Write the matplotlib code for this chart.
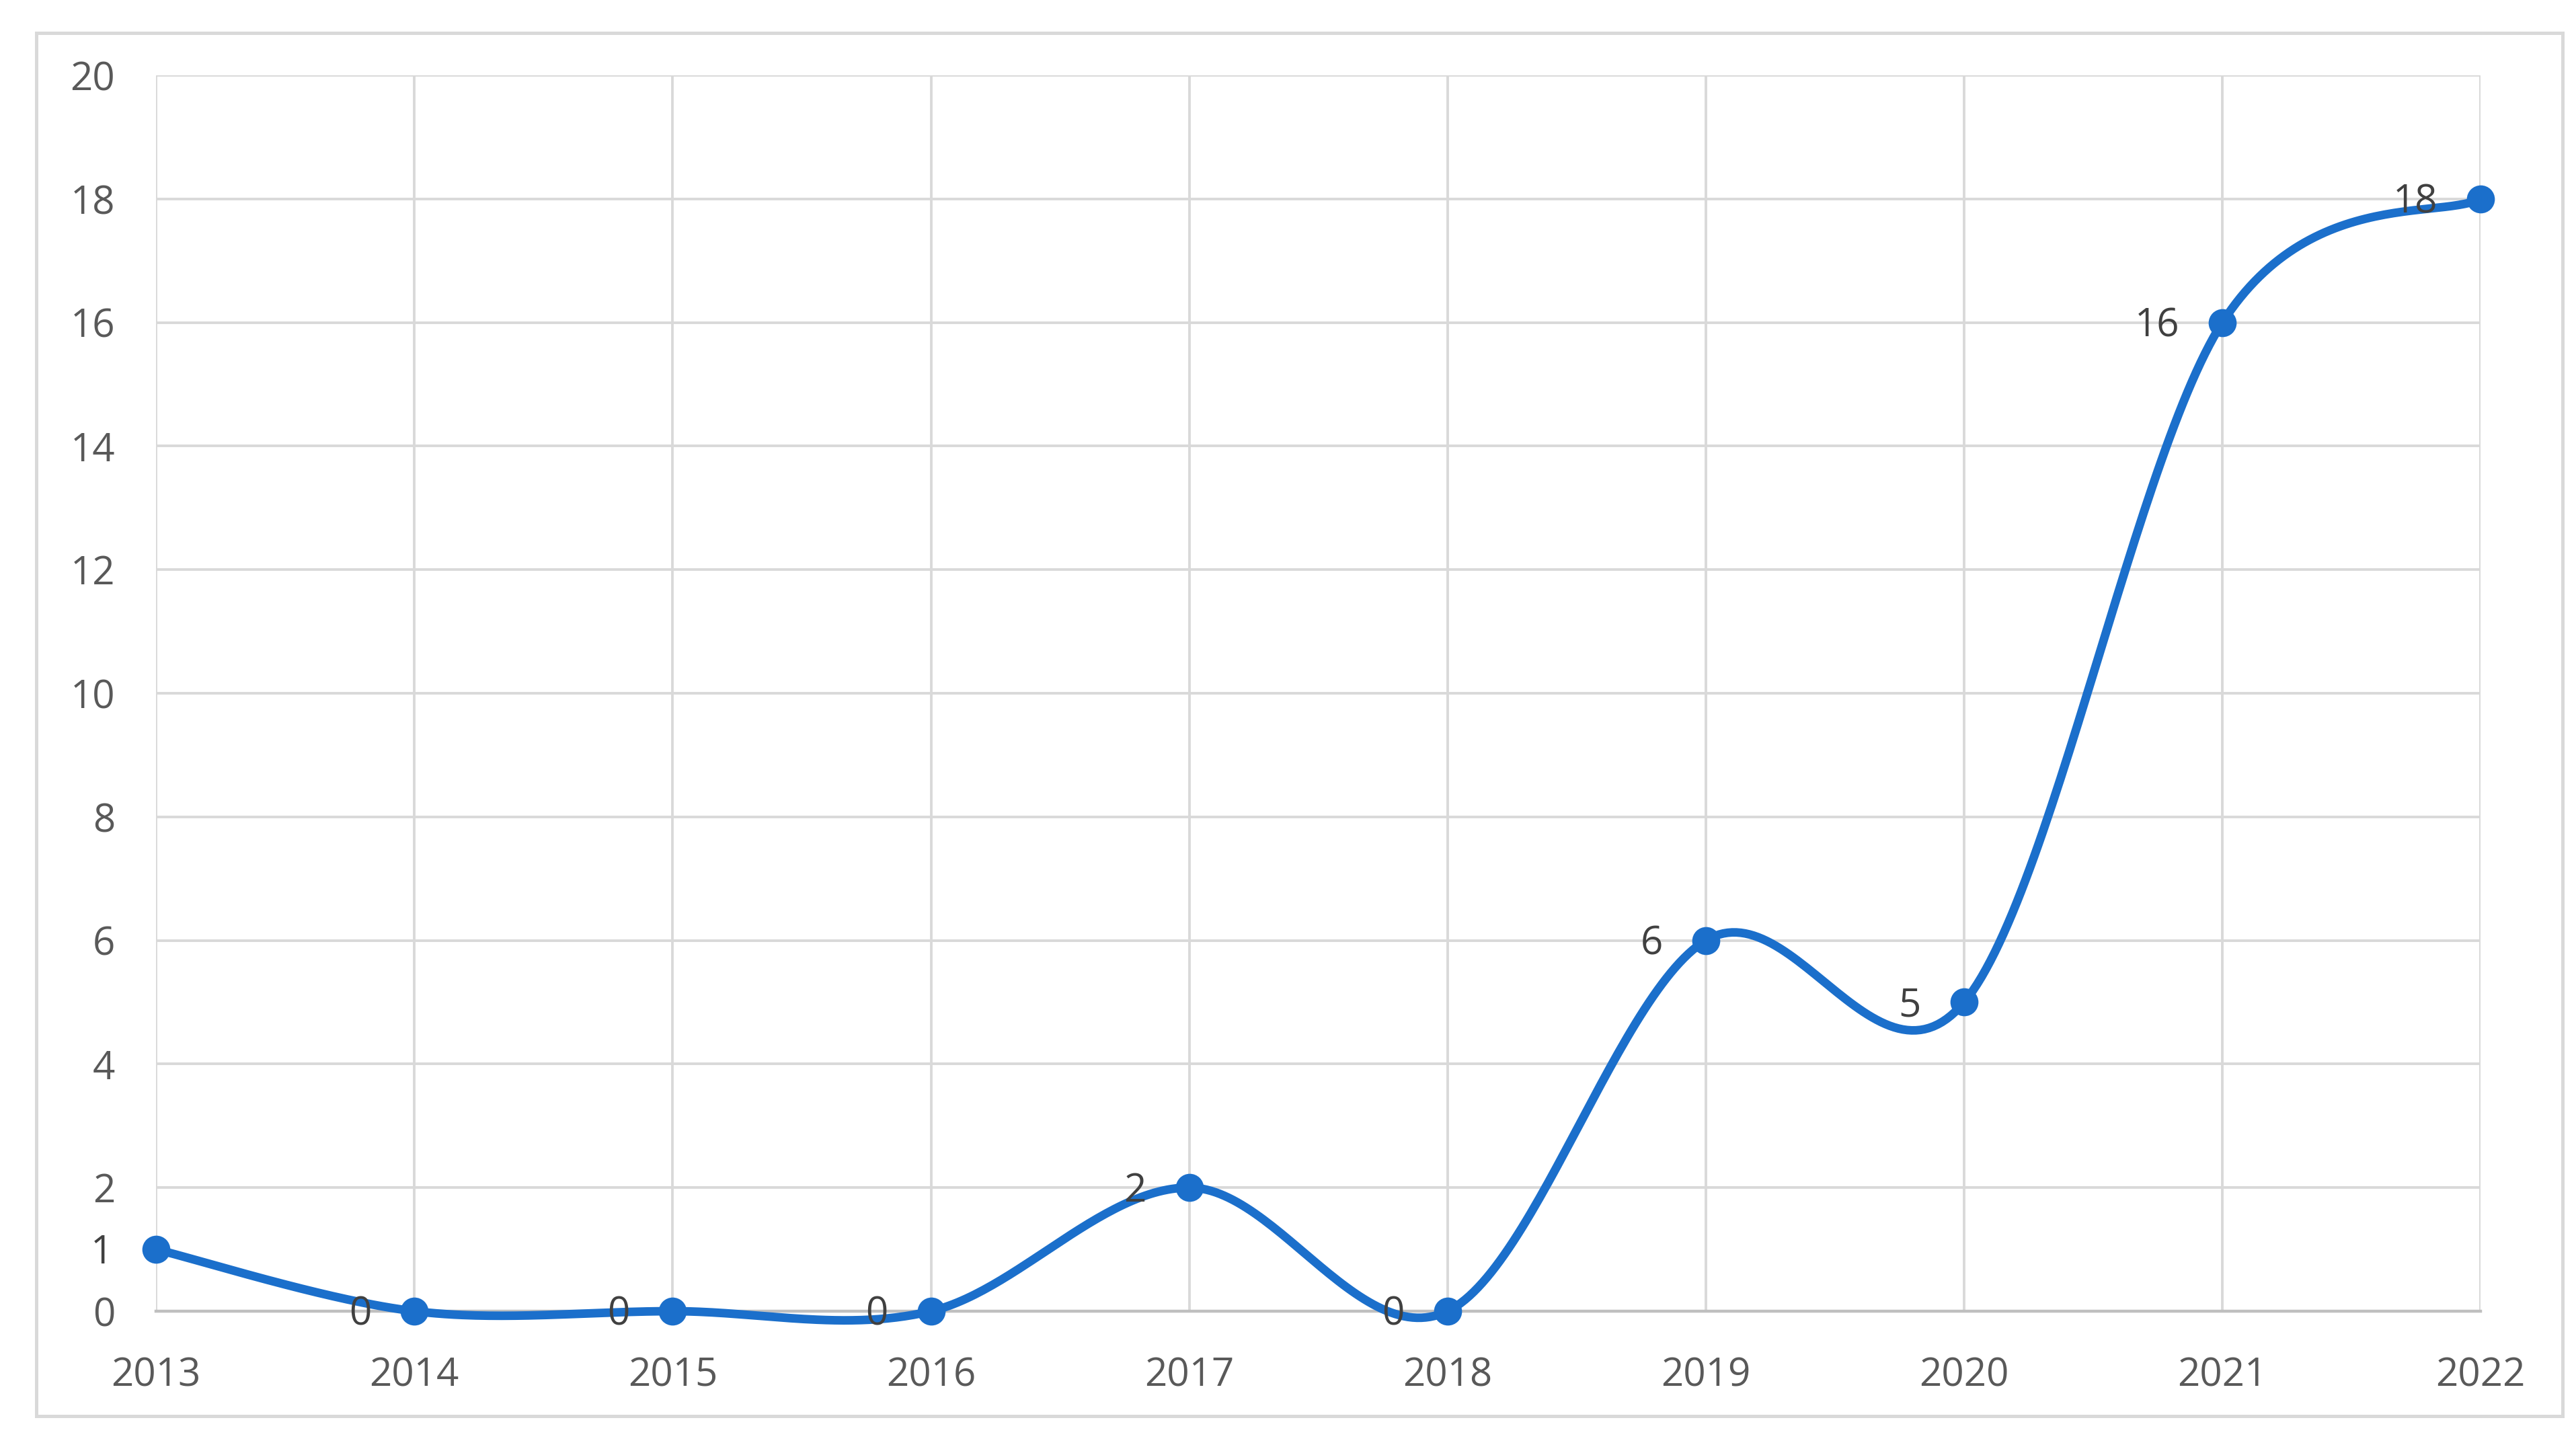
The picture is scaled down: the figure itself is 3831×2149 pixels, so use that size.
import numpy as np
import matplotlib
matplotlib.use("Agg")
import matplotlib.pyplot as plt
from matplotlib.patches import Rectangle

years = ["2013", "2014", "2015", "2016", "2017", "2018", "2019", "2020", "2021", "2022"]
values = [1, 0, 0, 0, 2, 0, 6, 5, 16, 18]
y_ticks = [0, 2, 4, 6, 8, 10, 12, 14, 16, 18, 20]

plt.rcParams['font.family'] = ['Open Sans', 'DejaVu Sans']

fig = plt.figure(figsize=(19.155, 10.745), dpi=200)
ax = fig.add_axes([0.0606, 0.0926, 0.9024, 0.8553])

# outer chart border
fig.patches.append(Rectangle((0.0141, 0.020), 0.9807, 0.957, transform=fig.transFigure,
                             fill=False, edgecolor='#D9D9D9', linewidth=1.8, zorder=0))

x = np.arange(len(values), dtype=float)
y = np.array(values, dtype=float)

# Excel-like smoothed line (Catmull-Rom via cubic Bezier)
xs, ys = [], []
n = len(x)
t = np.linspace(0, 1, 60)
for i in range(n - 1):
    p0 = np.array([x[max(i - 1, 0)], y[max(i - 1, 0)]])
    p1 = np.array([x[i], y[i]])
    p2 = np.array([x[i + 1], y[i + 1]])
    p3 = np.array([x[min(i + 2, n - 1)], y[min(i + 2, n - 1)]])
    c1 = p1 + (p2 - p0) / 6.0
    c2 = p2 - (p3 - p1) / 6.0
    b = ((1 - t) ** 3)[:, None] * p1 + (3 * (1 - t) ** 2 * t)[:, None] * c1 + \
        (3 * (1 - t) * t ** 2)[:, None] * c2 + (t ** 3)[:, None] * p2
    xs.extend(b[:, 0]); ys.extend(b[:, 1])

color = '#1B6FCB'
ax.plot(xs, ys, color=color, linewidth=4.6, solid_capstyle='round', zorder=3, clip_on=False)
ax.plot(x, y, 'o', color=color, markersize=14, zorder=4, clip_on=False)

for xi, yi in zip(x, y):
    ax.annotate(f"{int(yi)}", (xi, yi), xytext=(-23, -2), textcoords='offset points',
                ha='right', va='center', fontsize=21, color='#404040', zorder=5,
                annotation_clip=False)

ax.set_xlim(0, n - 1)
ax.set_ylim(0, 20)
ax.set_xticks(x)
ax.set_xticklabels(years)
ax.set_yticks(y_ticks)
ax.grid(True, color='#D9D9D9', linewidth=1.4, zorder=0)
ax.set_axisbelow(True)
for s in ['top', 'right', 'left']:
    ax.spines[s].set_visible(False)
ax.spines['bottom'].set_color('#BFBFBF')
ax.spines['bottom'].set_linewidth(1.6)
ax.tick_params(axis='both', length=0, labelsize=21, labelcolor='#595959')
ax.tick_params(axis='x', pad=24)
ax.tick_params(axis='y', pad=22)

fig.savefig("out.png", dpi=200, facecolor='white')
